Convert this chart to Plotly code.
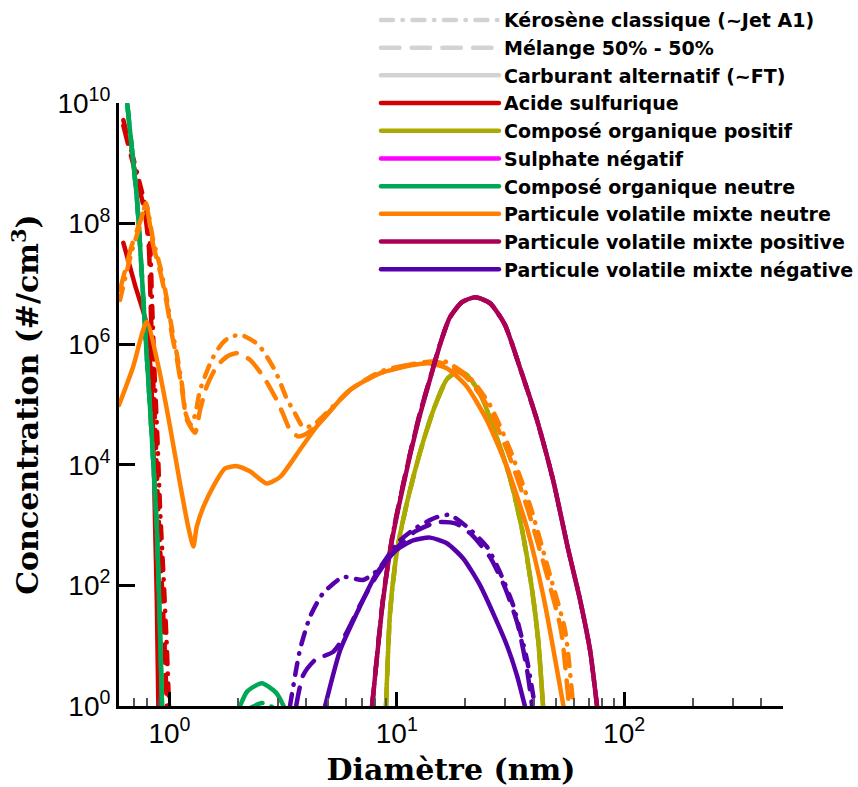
import math
import plotly.graph_objects as go

# ---------------- data (diameter in nm, concentration in #/cm3) ----------------
# Acide sulfurique
h2so4_kero_d = [0.627, 0.679, 0.735, 0.789, 0.822, 0.838, 0.860, 0.886, 0.909, 0.940, 0.971, 0.996]
h2so4_kero_c = [5.2e9, 1.66e9, 5.2e8, 1.7e8, 4.5e7, 5.4e6, 3.3e5, 2.6e4, 2.0e3, 162, 12.3, 1.0]
h2so4_mel_d = [0.627, 0.672, 0.727, 0.780, 0.812, 0.826, 0.846, 0.870, 0.892, 0.921, 0.950, 0.974]
h2so4_mel_c = [4.2e9, 1.5e9, 4.8e8, 1.5e8, 4.0e7, 5.0e6, 3.3e5, 2.6e4, 2.0e3, 162, 12.3, 1.0]
h2so4_ft_d = [0.627, 0.706, 0.795, 0.830, 0.851, 0.865, 0.880, 0.894]
h2so4_ft_c = [4.8e7, 9.5e6, 2.1e6, 2.6e5, 1.8e4, 1.0e3, 58, 1.0]

# Composé organique positif
orgpos_d = [8.97, 9.34, 10.0, 11.07, 12.65, 14.5, 16.6, 18.4, 20.3, 23.2, 26.6, 31.5, 35.6, 39.4, 41.9, 44.0]
orgpos_kero_c = [1.0, 35, 350, 2.3e3, 1.6e4, 8.1e4, 2.6e5, 3.5e5, 3.1e5, 1.55e5, 4.1e4, 6.0e3, 830, 83, 12.3, 1.0]
orgpos_mel_c = [1.0, 35, 350, 2.3e3, 1.6e4, 8.1e4, 2.6e5, 3.5e5, 3.1e5, 1.55e5, 4.1e4, 6.0e3, 830, 83, 12.3, 1.0]
orgpos_ft_c = [1.0, 35, 350, 2.3e3, 1.6e4, 8.1e4, 2.6e5, 3.5e5, 3.1e5, 1.55e5, 4.1e4, 6.0e3, 830, 83, 12.3, 1.0]

# Sulphate négatif (below the plotted range: legend entry only)
sulph_d = [None]
sulph_c = [None]

# Composé organique neutre
orgneu_kero_d = [0.605, 0.652, 0.72, 0.789, 0.838, 0.879, 0.905, 0.928, None, 2.30, 2.55, 2.85]
orgneu_kero_c = [3e11, 1e10, 2.45e8, 1e6, 2.6e4, 1e3, 32, 1.0, None, 0.95, 1.12, 0.95]
orgneu_mel_d = [0.605, 0.652, 0.72, 0.789, 0.838, 0.879, 0.905, 0.928]
orgneu_mel_c = [3e11, 1e10, 2.45e8, 1e6, 2.6e4, 1e3, 32, 1.0]
orgneu_ft_d = [0.605, 0.652, 0.72, 0.789, 0.838, 0.879, 0.905, 0.928, None, 2.02, 2.2, 2.55, 2.95, 3.22]
orgneu_ft_c = [3e11, 1e10, 2.45e8, 1e6, 2.6e4, 1e3, 32, 1.0, None, 0.9, 1.75, 2.38, 1.65, 0.9]

# Particule volatile mixte neutre
pvmn_kero_d = [0.606, 0.685, 0.743, 0.789, 0.847, 0.918, 0.976, 1.027, 1.08, 1.136, 1.183, 1.245,
               1.30, 1.364, 1.535, 1.70, 1.848, 2.08, 2.46, 2.91, 3.28, 3.57, 3.88, 4.30,
               6.23, 8.45, 11.8, 16.2, 21.0, 25.7, 31.5, 38.6, 47.2, 55.0, 59.7]
pvmn_kero_c = [5.4e6, 3.6e7, 9.5e7, 2.2e8, 5.4e7, 1.7e7, 5.4e6, 1.74e6, 6.6e5, 2.1e5, 6.8e4, 4.6e4,
               7.0e4, 1.74e5, 5.5e5, 1.02e6, 1.32e6, 1.41e6, 9.8e5, 3.7e5, 1.26e5, 7.1e4, 4.2e4, 4.6e4,
               1.74e5, 3.5e5, 4.7e5, 5.2e5, 2.75e5, 9.8e4, 1.78e4, 2.1e3, 148, 18, 1.0]
pvmn_mel_d = [0.606, 0.685, 0.743, 0.789, 0.847, 0.918, 0.976, 1.027, 1.08, 1.136, 1.195, 1.296,
              1.364, 1.459, 1.615, 1.787, 1.977, 2.26, 2.59, 2.97, 3.17, 3.39, 3.69, 4.02, 4.44,
              6.23, 8.45, 11.8, 15.4, 20.0, 24.9, 30.5, 37.4, 45.8, 52.8, 57.2]
pvmn_mel_c = [7.9e6, 4.5e7, 1.07e8, 2.0e8, 4.5e7, 1.4e7, 4.5e6, 1.4e6, 5.5e5, 1.74e5, 5.5e4, 3.4e4,
              8.1e4, 2.0e5, 4.3e5, 6.2e5, 7.1e5, 5.5e5, 2.9e5, 1.17e5, 6.8e4, 3.8e4, 2.95e4, 3.3e4, 4.4e4,
              1.74e5, 3.3e5, 4.7e5, 5.0e5, 2.95e5, 9.8e4, 1.78e4, 2.0e3, 148, 18, 1.0]
pvmn_ft_d = [0.600, 0.692, 0.794, 0.894, 1.006, 1.113, 1.21, 1.274, 1.318, 1.41, 1.56, 1.757, 1.98,
             2.26, 2.68, 3.07, 3.75, 4.44, 6.23, 8.45, 11.8, 14.0, 16.6, 20.3, 24.9, 30.5, 37.3, 44.2, 54.1]
pvmn_ft_c = [9.8e4, 4.2e5, 2.35e6, 4.3e5, 4.3e4, 4.9e3, 930, 440, 930, 2.0e3, 4.4e3, 8.7e3, 9.5e3,
             7.8e3, 4.9e3, 6.3e3, 1.78e4, 4.3e4, 1.74e5, 3.3e5, 4.5e5, 4.8e5, 4.0e5, 2.0e5, 5.5e4,
             9.3e3, 930, 65, 1.0]

# Particule volatile mixte positive
pvmp_d = [7.79, 8.71, 9.53, 10.35, 11.45, 12.66, 14.0, 15.5, 17.1, 19.4, 22.1, 25.7, 29.9, 34.8,
          41.4, 48.7, 56.8, 64.0, 70.8, 76.0]
pvmp_kero_c = [1.0, 62, 600, 2.8e3, 1.55e4, 7.3e4, 2.7e5, 1.0e6, 2.75e6, 5.0e6, 6.0e6, 4.8e6, 2.1e6,
               4.1e5, 5.5e4, 5.6e3, 390, 58, 8.5, 1.0]
pvmp_mel_c = [1.0, 62, 600, 2.8e3, 1.55e4, 7.3e4, 2.7e5, 1.0e6, 2.75e6, 5.0e6, 6.0e6, 4.8e6, 2.1e6,
              4.1e5, 5.5e4, 5.6e3, 390, 58, 8.5, 1.0]
pvmp_ft_c = [1.0, 58, 560, 2.6e3, 1.45e4, 6.8e4, 2.6e5, 9.8e5, 2.75e6, 5.0e6, 6.0e6, 4.8e6, 2.1e6,
             4.1e5, 5.5e4, 5.6e3, 390, 58, 8.5, 1.0]

# Particule volatile mixte négative
pvmneg_kero_d = [3.39, 3.75, 4.15, 4.74, 5.81, 7.11, 8.28, 9.35, 10.35, 12.3, 15.0, 17.1, 20.4, 24.9,
                 28.5, 32.5, 37.4, 40.5]
pvmneg_kero_c = [1.0, 8.5, 30, 74, 138, 123, 182, 347, 560, 930, 1350, 1480, 930, 440, 162, 47, 5.8, 1.0]
pvmneg_mel_d = [3.61, 3.87, 4.37, 5.25, 5.93, 6.9, 8.03, 9.84, 12.0, 15.1, 18.1, 21.4, 25.7, 29.9,
                34.1, 37.4, 39.4]
pvmneg_mel_c = [1.0, 3.2, 5.8, 7.9, 15, 47, 132, 390, 780, 1120, 1070, 690, 295, 93, 22, 4.0, 1.0]
pvmneg_ft_d = [4.84, 5.64, 6.68, 8.18, 10.0, 11.8, 14.0, 16.6, 19.6, 23.2, 27.1, 30.5, 33.8, 36.6]
pvmneg_ft_c = [1.0, 8.5, 35, 162, 390, 560, 620, 500, 280, 102, 29, 10.2, 3.2, 1.0]

# axis ticks
x_tickvals = [1, 10, 100]
x_ticktext = ["10<sup>0</sup>", "10<sup>1</sup>", "10<sup>2</sup>"]
x_minorvals = [0.6, 0.7, 0.8, 0.9, 2, 3, 4, 5, 6, 7, 8, 9, 20, 30, 40, 50, 60, 70, 80, 90, 200, 300, 400]
y_tickvals = [1, 1e2, 1e4, 1e6, 1e8, 1e10]
y_ticktext = ["10<sup>0</sup>", "10<sup>2</sup>", "10<sup>4</sup>", "10<sup>6</sup>", "10<sup>8</sup>", "10<sup>10</sup>"]

# ---------------- styles ----------------
fuel_names = ["Kérosène classique (~Jet A1)", "Mélange 50% - 50%", "Carburant alternatif (~FT)"]
fuel_dash = ["12px,9.5px,0.5px,9.5px", "18.5px,12.2px", "solid"]
species_names = ["Acide sulfurique", "Composé organique positif", "Sulphate négatif",
                 "Composé organique neutre", "Particule volatile mixte neutre",
                 "Particule volatile mixte positive", "Particule volatile mixte négative"]
species_colors = ["#d40000", "#aaaa00", "#ff00ff", "#00a855", "#ff8000", "#aa0055", "#5500aa"]
LW = 4.5

series = [
    # species index, fuel index, d, c
    (0, 0, h2so4_kero_d, h2so4_kero_c), (0, 1, h2so4_mel_d, h2so4_mel_c), (0, 2, h2so4_ft_d, h2so4_ft_c),
    (1, 0, orgpos_d, orgpos_kero_c), (1, 1, orgpos_d, orgpos_mel_c), (1, 2, orgpos_d, orgpos_ft_c),
    (2, 2, sulph_d, sulph_c),
    (3, 0, orgneu_kero_d, orgneu_kero_c), (3, 1, orgneu_mel_d, orgneu_mel_c), (3, 2, orgneu_ft_d, orgneu_ft_c),
    (4, 0, pvmn_kero_d, pvmn_kero_c), (4, 1, pvmn_mel_d, pvmn_mel_c), (4, 2, pvmn_ft_d, pvmn_ft_c),
    (5, 0, pvmp_d, pvmp_kero_c), (5, 1, pvmp_d, pvmp_mel_c), (5, 2, pvmp_d, pvmp_ft_c),
    (6, 0, pvmneg_kero_d, pvmneg_kero_c), (6, 1, pvmneg_mel_d, pvmneg_mel_c), (6, 2, pvmneg_ft_d, pvmneg_ft_c),
]

fig = go.Figure()

# legend entries
for name, dash in zip(fuel_names, fuel_dash):
    fig.add_trace(go.Scatter(x=[None], y=[None], mode="lines", name=name,
                             line=dict(color="#d3d3d3", width=LW, dash=dash)))
for name, col in zip(species_names, species_colors):
    fig.add_trace(go.Scatter(x=[None], y=[None], mode="lines", name=name,
                             line=dict(color=col, width=LW)))

# data curves
for si, fi, d, c in series:
    fig.add_trace(go.Scatter(x=d, y=c, mode="lines", showlegend=False, connectgaps=False,
                             line=dict(color=species_colors[si], width=LW, dash=fuel_dash[fi],
                                       shape="spline", smoothing=0.6),
                             hoverinfo="skip"))

tick_font = dict(family="Liberation Sans, Arial, sans-serif", size=28, color="black")
title_font = dict(family="DejaVu Serif, serif", size=30, color="black", weight="bold")

fig.update_layout(
    width=858, height=787,
    margin=dict(l=119, r=75, t=103, b=81, autoexpand=False),
    paper_bgcolor="white", plot_bgcolor="white",
    showlegend=True,
    legend=dict(x=0.387, y=1.169, xanchor="left", yanchor="top",
                font=dict(family="DejaVu Sans, sans-serif", size=19, color="black", weight="bold"),
                itemwidth=118, bgcolor="rgba(0,0,0,0)", borderwidth=0, tracegroupgap=0),
    xaxis=dict(type="log", range=[math.log10(0.6), math.log10(500)],
               showline=True, linecolor="black", linewidth=3, mirror=False,
               showgrid=False, zeroline=False,
               tickmode="array", tickvals=x_tickvals, ticktext=x_ticktext,
               ticks="inside", ticklen=14, tickwidth=3, tickcolor="black",
               tickfont=tick_font,
               minor=dict(tickmode="array", tickvals=x_minorvals, ticks="inside",
                          ticklen=8, tickwidth=2, tickcolor="#555555", showgrid=False),
               title=dict(text="Diamètre (nm)", font=title_font, standoff=12)),
    yaxis=dict(type="log", range=[0, 10],
               showline=True, linecolor="black", linewidth=3, mirror=False,
               showgrid=False, zeroline=False,
               tickmode="array", tickvals=y_tickvals, ticktext=y_ticktext,
               ticks="inside", ticklen=16, tickwidth=3, tickcolor="black",
               tickfont=tick_font,
               title=dict(text="Concentration (#/cm<sup>3</sup>)", font=title_font, standoff=10)),
)

post = """
document.body.style.margin = '0';
document.documentElement.style.margin = '0';
var st = document.createElement('style');
st.innerHTML = 'body{margin:0;} .js-line, .legendlines path { stroke-linecap: round; stroke-linejoin: round; }';
document.head.appendChild(st);
"""
fig.write_html("out.html", post_script=post, config={"displayModeBar": False})
